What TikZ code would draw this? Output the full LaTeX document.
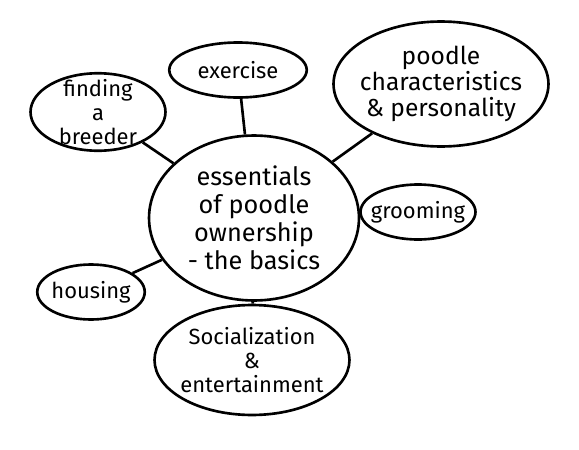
\documentclass[tikz,border=0pt]{standalone}
\usepackage{fontspec}
\setmainfont{Fira Sans}
\usetikzlibrary{shapes.geometric}

\begin{document}
\begin{tikzpicture}[x=0.02cm,y=-0.02cm,
    topic/.style={ellipse,draw,line width=1.5pt,align=center,inner sep=-1cm,
      font=\fontsize{12.5}{13.5}\selectfont},
    link/.style={line width=1.5pt}]
  \useasboundingbox (0,0) rectangle (579,450);
  % centre
  \node[topic,minimum width=4.2cm,minimum height=3.3cm,font=\fontsize{14.4}{16}\selectfont] (core) at (254,218)
    {essentials\\of poodle\\ownership\\- the basics};
  % topics round it
  \node[topic,minimum width=2.75cm,minimum height=1.1cm] (exercise) at (238,70) {exercise};
  \node[topic,minimum width=4.3cm,minimum height=2.5cm,font=\fontsize{14}{15}\selectfont] (character) at (441,84)
    {poodle\\characteristics\\\& personality};
  \node[topic,minimum width=2.7cm,minimum height=1.55cm] (breeder) at (98,112)
    {finding\\a\\breeder};
  \node[topic,minimum width=2.3cm,minimum height=1.1cm] (grooming) at (418,212) {grooming};
  \node[topic,minimum width=2.15cm,minimum height=1.1cm] (housing) at (91,292) {housing};
  \node[topic,minimum width=3.9cm,minimum height=2.2cm] (social) at (252,360)
    {Socialization\\\&\\entertainment};
  % links
  \draw[link] (core) -- (exercise);
  \draw[link] (core) -- (character);
  \draw[link] (core) -- (breeder);
  \draw[link] (core) -- (grooming);
  \draw[link] (core) -- (housing);
  \draw[link] (core) -- (social);
\end{tikzpicture}
\end{document}
